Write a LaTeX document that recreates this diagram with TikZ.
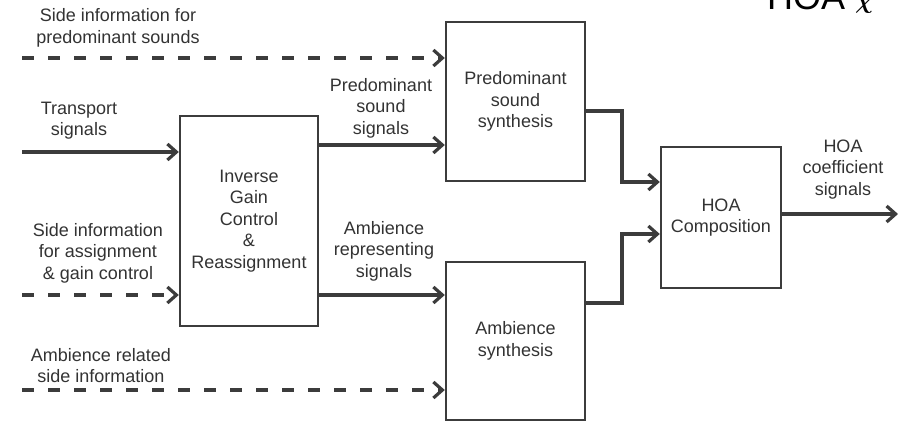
\documentclass[tikz,border=0pt]{standalone}
\usepackage{amsmath,amssymb,bm}
\usepackage{fontspec}
\setmainfont{Liberation Sans}
\usetikzlibrary{arrows.meta}
\definecolor{ink}{HTML}{3C3C3C}
\definecolor{txt}{HTML}{333333}
\tikzset{
  x=1pt, y=-1pt,
  lbl/.style={inner sep=0pt, align=center, text=txt, font=\fontsize{18}{21.5}\selectfont},
  blk/.style={draw=ink, line width=2.4pt, rectangle, inner sep=0pt, align=center, text=txt, font=\fontsize{18}{21.5}\selectfont},
  sig/.style={draw=ink, line width=3.4pt, -{Straight Barb[length=9pt,width=16pt,line width=3.2pt]}},
  dsig/.style={sig, dash pattern=on 12pt off 14pt}
}
\begin{document}
\begin{tikzpicture}
\clip (0,0) rectangle (898,421);
\fill[white] (0,0) rectangle (898,421);

% cut-off title
\node[anchor=base west, inner sep=0pt, text=black, font=\fontsize{36}{40}\selectfont] (ttl) at (767,9) {HOA \raisebox{1pt}{\fontsize{44}{48}\selectfont$\bm{\chi}$}};

% blocks
\node[blk, minimum width=138pt, minimum height=210pt] (igc) at (249,221) {Inverse\\Gain\\Control\\\&\\Reassignment};
\node[blk, minimum width=139pt, minimum height=159pt] (pss) at (515.5,101.5) {Predominant\\sound\\synthesis};
\node[blk, minimum width=139pt, minimum height=158pt] (amb) at (515.5,341) {Ambience\\synthesis};
\node[blk, minimum width=120pt, minimum height=141pt] (hoa) at (721,217.5) {HOA\\Composition};

% labels
\node[lbl] (l1) at (118,28) {Side information for\\predominant sounds};
\node[lbl] (l2) at (79,120.5) {Transport\\signals};
\node[lbl] (l3) at (381,108) {Predominant\\sound\\signals};
\node[lbl] (l4) at (98,253) {Side information\\for assignment\\\& gain control};
\node[lbl] (l5) at (384,251) {Ambience\\representing\\signals};
\node[lbl] (l6) at (101,365.5) {Ambience related\\side information};
\node[lbl] (l7) at (843,169.5) {HOA\\coefficient\\signals};

% free ends
\coordinate (s1) at (22,58);
\coordinate (s2) at (22,152);
\coordinate (s3) at (22,295);
\coordinate (s4) at (22,390);
\coordinate (o1) at (898,214);

% connectors
\draw[dsig] (s1) -- (pss.west |- s1);
\draw[sig] (s2) -- (igc.west |- s2);
\draw[dsig] (s3) -- (igc.west |- s3);
\draw[dsig] (s4) -- (amb.west |- s4);
\draw[sig] (igc.east |- 0,145) -- (pss.west |- 0,145);
\draw[sig] (igc.east |- 0,295) -- (amb.west |- 0,295);
\draw[sig, line join=miter] (pss.east |- 0,111) -| (622,182) -- (hoa.west |- 0,182);
\draw[sig, line join=miter] (amb.east |- 0,303) -| (622,234) -- (hoa.west |- 0,234);
\draw[sig] (hoa.east |- o1) -- (o1);
\end{tikzpicture}
\end{document}
